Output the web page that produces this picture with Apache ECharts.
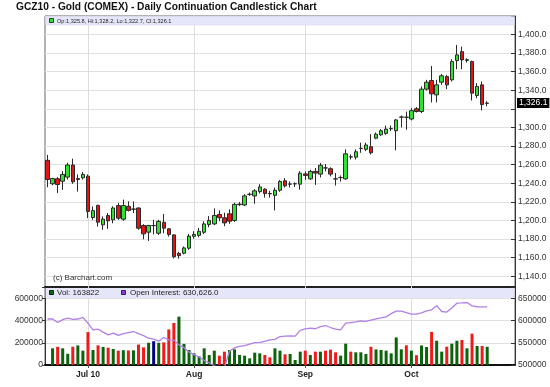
<!DOCTYPE html>
<html><head><meta charset="utf-8">
<script src="https://cdn.jsdelivr.net/npm/echarts@6.0.0/dist/echarts.min.js"></script>
<style>html,body{margin:0;padding:0;background:#fff}#c{width:550px;height:387px}</style>
</head><body><div id="c"></div><script>
const title = 'GCZ10 - Gold (COMEX) - Daily Continuation Candlestick Chart';
const dates = ['6/21','6/22','6/23','6/24','6/25','6/28','6/29','6/30',
'7/1','7/2','7/6','7/7','7/8','7/9','7/12','7/13','7/14','7/15','7/16','7/19','7/20','7/21','7/22','7/23','7/26','7/27','7/28','7/29','7/30',
'8/2','8/3','8/4','8/5','8/6','8/9','8/10','8/11','8/12','8/13','8/16','8/17','8/18','8/19','8/20','8/23','8/24','8/25','8/26','8/27','8/30','8/31',
'9/1','9/2','9/3','9/7','9/8','9/9','9/10','9/13','9/14','9/15','9/16','9/17','9/20','9/21','9/22','9/23','9/24','9/27','9/28','9/29','9/30',
'10/1','10/4','10/5','10/6','10/7','10/8','10/11','10/12','10/13','10/14','10/15','10/18','10/19','10/20','10/21','10/22'];
const monthLabels = {'7/1':'Jul 10','8/2':'Aug','9/1':'Sep','10/1':'Oct'};
const opens = [1264.6,1239.4,1244.8,1242.2,1246.6,1259.6,1245.0,1245.8,
1247.6,1203.2,1216.2,1195.3,1205.4,1200.7,1216.0,1201.4,1215.2,1212.0,1213.4,1194.6,1187.4,1194.4,1186.3,1198.0,1191.0,1184.5,1164.6,1164.8,1170.2,
1183.0,1184.0,1187.3,1195.6,1196.3,1206.5,1202.9,1207.2,1200.0,1217.0,1216.6,1228.0,1226.4,1231.0,1233.6,1229.0,1227.0,1232.5,1242.6,1239.0,1239.3,1239.0,
1250.0,1244.7,1252.7,1249.8,1256.4,1255.6,1244.7,1246.0,1244.7,1268.4,1268.0,1277.4,1276.4,1279.3,1288.4,1292.0,1293.5,1298.5,1296.4,1311.0,1311.0,
1309.0,1320.0,1317.1,1341.1,1350.4,1335.0,1348.6,1354.6,1351.1,1371.8,1381.4,1372.0,1370.7,1334.3,1345.7,1325.8];
const highs = [1270.4,1245.8,1246.6,1253.0,1262.0,1266.4,1249.5,1252.0,
1249.5,1215.0,1217.0,1204.3,1208.0,1215.2,1218.8,1222.4,1220.6,1220.6,1214.0,1196.0,1195.3,1200.7,1200.7,1207.0,1191.7,1185.0,1166.4,1172.0,1185.5,
1188.4,1192.0,1199.2,1204.7,1213.0,1210.8,1208.3,1211.9,1219.1,1219.8,1228.2,1230.0,1233.6,1239.0,1234.7,1231.8,1235.4,1243.4,1245.5,1242.0,1241.0,1253.0,
1252.7,1254.5,1256.4,1261.8,1260.7,1257.1,1251.0,1248.4,1276.4,1270.9,1276.4,1283.6,1283.6,1292.7,1294.5,1298.2,1301.8,1302.0,1309.1,1312.7,1317.0,
1320.7,1321.8,1344.0,1351.1,1366.1,1351.1,1357.5,1356.4,1373.2,1388.6,1386.8,1374.3,1371.8,1347.5,1349.3,1328.2];
const lows = [1235.7,1238.0,1229.6,1233.0,1244.0,1239.4,1231.0,1244.0,
1202.5,1200.7,1193.5,1190.0,1191.0,1197.0,1200.7,1199.6,1209.7,1208.0,1190.0,1179.8,1178.0,1185.0,1184.5,1186.3,1182.7,1159.2,1159.0,1163.6,1168.5,
1180.4,1181.9,1185.5,1192.7,1194.9,1199.2,1193.8,1196.3,1198.5,1215.5,1215.5,1226.4,1218.0,1229.0,1224.6,1224.6,1210.8,1230.8,1235.4,1235.4,1236.0,1233.2,
1243.6,1243.6,1238.2,1246.2,1252.7,1247.3,1237.5,1241.8,1243.6,1265.5,1265.5,1272.7,1274.5,1270.9,1287.3,1290.9,1292.0,1296.0,1275.3,1300.0,1297.5,
1307.5,1316.0,1315.4,1339.6,1326.8,1326.8,1345.7,1341.1,1349.3,1362.5,1362.5,1369.6,1328.9,1331.4,1318.2,1322.7];
const closes = [1244.0,1245.0,1238.6,1249.5,1259.6,1241.5,1244.0,1249.5,
1209.7,1210.5,1198.2,1201.4,1199.6,1213.4,1202.5,1216.0,1210.8,1212.3,1191.7,1185.6,1194.6,1194.6,1199.0,1191.7,1185.0,1161.0,1162.2,1170.5,1183.2,
1185.0,1188.4,1196.3,1200.0,1205.4,1202.9,1197.4,1199.2,1217.3,1217.6,1226.4,1228.2,1231.8,1236.0,1228.9,1228.6,1232.5,1241.9,1237.2,1239.2,1239.5,1250.8,
1248.4,1252.7,1250.9,1259.3,1256.5,1249.8,1244.5,1246.2,1271.6,1268.2,1273.8,1277.5,1281.1,1272.7,1292.7,1296.4,1298.2,1298.8,1308.0,1311.2,1310.8,
1318.0,1317.1,1341.1,1348.6,1336.1,1345.7,1355.4,1345.7,1370.7,1377.9,1372.5,1372.7,1336.8,1343.9,1324.5,1326.1];
const volumes = [null,150000,163000,150000,101000,164000,176000,129000,
296000,135000,177000,162000,156000,144000,129000,133000,131000,132000,184000,159000,200000,214000,200000,203000,320000,378000,435000,190000,135000,
105000,78000,150000,90000,129000,84000,120000,135000,141000,90000,84000,60000,111000,105000,90000,69000,150000,129000,96000,99000,45000,120000,
129000,90000,120000,120000,129000,138000,114000,84000,192000,120000,114000,114000,99000,164000,140000,135000,129000,105000,248000,141000,177000,
129000,88000,176000,162000,298000,218000,120000,165000,192000,218000,225000,150000,282000,171000,171000,163822];
const openInterest = [603500,603500,595500,602000,605300,602500,603400,607000,
594000,579000,580500,574000,567800,571500,566500,570500,573000,575300,570500,566000,560200,558000,553500,561800,556500,556000,545300,539000,529000,
523500,518000,510000,505000,498000,496000,494000,531000,538500,541700,543500,547000,550500,550700,553000,556500,557500,564000,565000,565500,565000,578000,
581000,583000,581500,586500,588800,584300,580500,579000,594000,595500,597000,599000,598000,601000,603500,606000,608000,615500,621000,621000,618000,
614300,614500,617000,621500,624000,633500,620300,619000,628000,639000,639500,640500,633000,631000,630700,630626];
const priceTicks = {min: 1128.5, max: 1419.7, step: 20};
const volTicks = {min: 0, max: 701650, step: 200000};
const oiTicks = {min: 500000, max: 675412, step: 50000};

const FONT = 'Arial, "Liberation Sans", sans-serif';
const N = dates.length, last = N - 1, PAD = 5;
const cats = dates.concat(Array.from({length: PAD}, (_, k) => ' '.repeat(k + 1)));
function fmt1(v) { const s = v.toFixed(1).split('.'); return s[0].replace(/\B(?=(\d{3})+(?!\d))/g, ',') + '.' + s[1]; }
function onStep(v, step) { return Math.abs(v / step - Math.round(v / step)) < 1e-6; }
const GREEN = '#0b630b', RED = '#ee1b1b', BLUE = '#000080';
const monthLines = Object.keys(monthLabels).map(d => ({xAxis: d}));
const opText = 'Op:' + fmt1(opens[last]) + ', Hi:' + fmt1(highs[last]) + ', Lo:' + fmt1(lows[last]) + ', Cl:' + fmt1(closes[last]);
const volText = 'Vol: ' + volumes[last];
const oiText = 'Open Interest: ' + fmt1(openInterest[last]);

const chart = echarts.init(document.getElementById('c'), null, {renderer: 'canvas'});
const staticGraphics = [
  {type: 'text', x: 16, y: 7, z: 20, style: {text: title, font: 'bold 10.2px ' + FONT, fill: '#111', verticalAlign: 'middle'}},
  {type: 'rect', z: 10, shape: {x: 45.5, y: 16.5, width: 469, height: 8.5}, style: {fill: '#e6e6fa', stroke: '#d0d0ec', lineWidth: 0.5}},
  {type: 'rect', z: 11, shape: {x: 49.5, y: 18.5, width: 4, height: 4}, style: {fill: '#33dd33', stroke: '#1b4a1b', lineWidth: 1}},
  {type: 'text', x: 57, y: 21, z: 11, style: {text: opText, font: '5.6px ' + FONT, fill: '#222', verticalAlign: 'middle'}},
  {type: 'text', x: 53, y: 277.5, z: 11, style: {text: '(c) Barchart.com', font: '8px ' + FONT, fill: '#333', verticalAlign: 'middle'}},
  {type: 'rect', z: 10, shape: {x: 45.5, y: 288, width: 469, height: 10}, style: {fill: '#e6e6fa', stroke: null}},
  {type: 'rect', z: 11, shape: {x: 49.5, y: 290.5, width: 4, height: 4}, style: {fill: '#0b630b', stroke: '#0a2a0a', lineWidth: 1}},
  {type: 'text', x: 57, y: 292.5, z: 11, style: {text: volText, font: '8px ' + FONT, fill: '#222', verticalAlign: 'middle'}},
  {type: 'rect', z: 11, shape: {x: 121.5, y: 290.5, width: 4, height: 4}, style: {fill: '#8a3fd6', stroke: '#3a1a5a', lineWidth: 1}},
  {type: 'text', x: 130, y: 292.5, z: 11, style: {text: oiText, font: '8px ' + FONT, fill: '#222', verticalAlign: 'middle'}}
];
chart.setOption({
  animation: false,
  backgroundColor: '#fff',
  textStyle: {fontFamily: FONT},
  grid: [
    {left: 45, right: 35, top: 16, bottom: 100, show: true, borderColor: '#666', borderWidth: 1, backgroundColor: '#fff'},
    {left: 45, right: 35, top: 287, bottom: 22, show: true, borderColor: '#666', borderWidth: 1}
  ],
  xAxis: [
    {type: 'category', gridIndex: 0, data: cats, axisLine: {show: true, lineStyle: {color: '#222', width: 2}},
     axisTick: {show: false}, axisLabel: {show: false}, splitLine: {show: false}},
    {type: 'category', gridIndex: 1, data: cats, axisLine: {show: true, lineStyle: {color: '#111', width: 2}},
     axisTick: {show: true, alignWithLabel: true, interval: (i, v) => v in monthLabels, length: 3, lineStyle: {color: '#555'}},
     axisLabel: {interval: (i, v) => v in monthLabels, formatter: v => monthLabels[v] || '', fontWeight: 'bold', fontSize: 8.5, color: '#222', margin: 5, fontFamily: FONT},
     splitLine: {show: false}}
  ],
  yAxis: [
    {type: 'value', gridIndex: 0, position: 'right', min: priceTicks.min, max: priceTicks.max, splitNumber: 15,
     axisLine: {show: true, lineStyle: {color: '#333'}},
     axisTick: {show: true, inside: true, length: 4, lineStyle: {color: '#333'}},
     axisLabel: {fontSize: 8.5, color: '#333', margin: 3, fontFamily: FONT,
       formatter: v => (onStep(v, priceTicks.step) && v >= 1140 && v <= 1400 && Math.abs(v - closes[last]) > 12) ? fmt1(v) : ''},
     splitLine: {show: true, lineStyle: {color: '#e0e0e0'}}},
    {type: 'value', gridIndex: 1, position: 'left', min: volTicks.min, max: volTicks.max, splitNumber: 4,
     axisLine: {show: true, lineStyle: {color: '#333'}},
     axisTick: {show: true, length: 3, lineStyle: {color: '#333'}},
     axisLabel: {fontSize: 8.5, color: '#333', margin: 2, fontFamily: FONT,
       formatter: v => (onStep(v, volTicks.step) && v <= 600000) ? String(v) : ''},
     splitLine: {show: true, lineStyle: {color: '#e0e0e0'}}},
    {type: 'value', gridIndex: 1, position: 'right', min: oiTicks.min, max: oiTicks.max, splitNumber: 4,
     axisLine: {show: true, lineStyle: {color: '#333'}},
     axisTick: {show: true, inside: true, length: 4, lineStyle: {color: '#333'}},
     axisLabel: {fontSize: 8.5, color: '#333', margin: 3, fontFamily: FONT,
       formatter: v => (onStep(v, oiTicks.step) && v <= 650000) ? String(v) : ''},
     splitLine: {show: false}}
  ],
  series: [
    {type: 'candlestick', xAxisIndex: 0, yAxisIndex: 0, barWidth: 4, z: 2,
     data: dates.map((d, i) => [opens[i], closes[i], lows[i], highs[i]]),
     itemStyle: {color: '#2fe22f', color0: '#e01515', borderColor: '#2a2a2a', borderColor0: '#2a2a2a', borderWidth: 1},
     markLine: {silent: true, symbol: ['none', 'none'], z: 1, animation: false,
       lineStyle: {color: '#dcdcdc', width: 1, type: 'solid'}, label: {show: false}, data: monthLines}},
    {type: 'bar', xAxisIndex: 1, yAxisIndex: 1, barWidth: 3, z: 2,
     data: volumes,
     itemStyle: {color: p => {
       const i = p.dataIndex; const c = closes[i], pc = closes[i - 1];
       return c > pc ? GREEN : (c < pc ? RED : BLUE);
     }},
     markLine: {silent: true, symbol: ['none', 'none'], z: 1, animation: false,
       lineStyle: {color: '#dcdcdc', width: 1, type: 'solid'}, label: {show: false}, data: monthLines}},
    {type: 'line', xAxisIndex: 1, yAxisIndex: 2, z: 3, data: openInterest, showSymbol: false, symbol: 'none',
     lineStyle: {color: '#b07fe6', width: 1.3}}
  ],
  graphic: staticGraphics
});
// last-price tag on the price axis, placed through the axis scale
const yLast = chart.convertToPixel({yAxisIndex: 0}, closes[last]);
chart.setOption({graphic: staticGraphics.concat([
  {type: 'text', x: 517, y: yLast, z: 30,
   style: {text: fmt1(closes[last]), font: '8.5px ' + FONT, fill: '#fff', backgroundColor: '#000', padding: [1, 2, 0, 2], verticalAlign: 'middle'}}
])}, {replaceMerge: ['graphic']});
</script></body></html>
